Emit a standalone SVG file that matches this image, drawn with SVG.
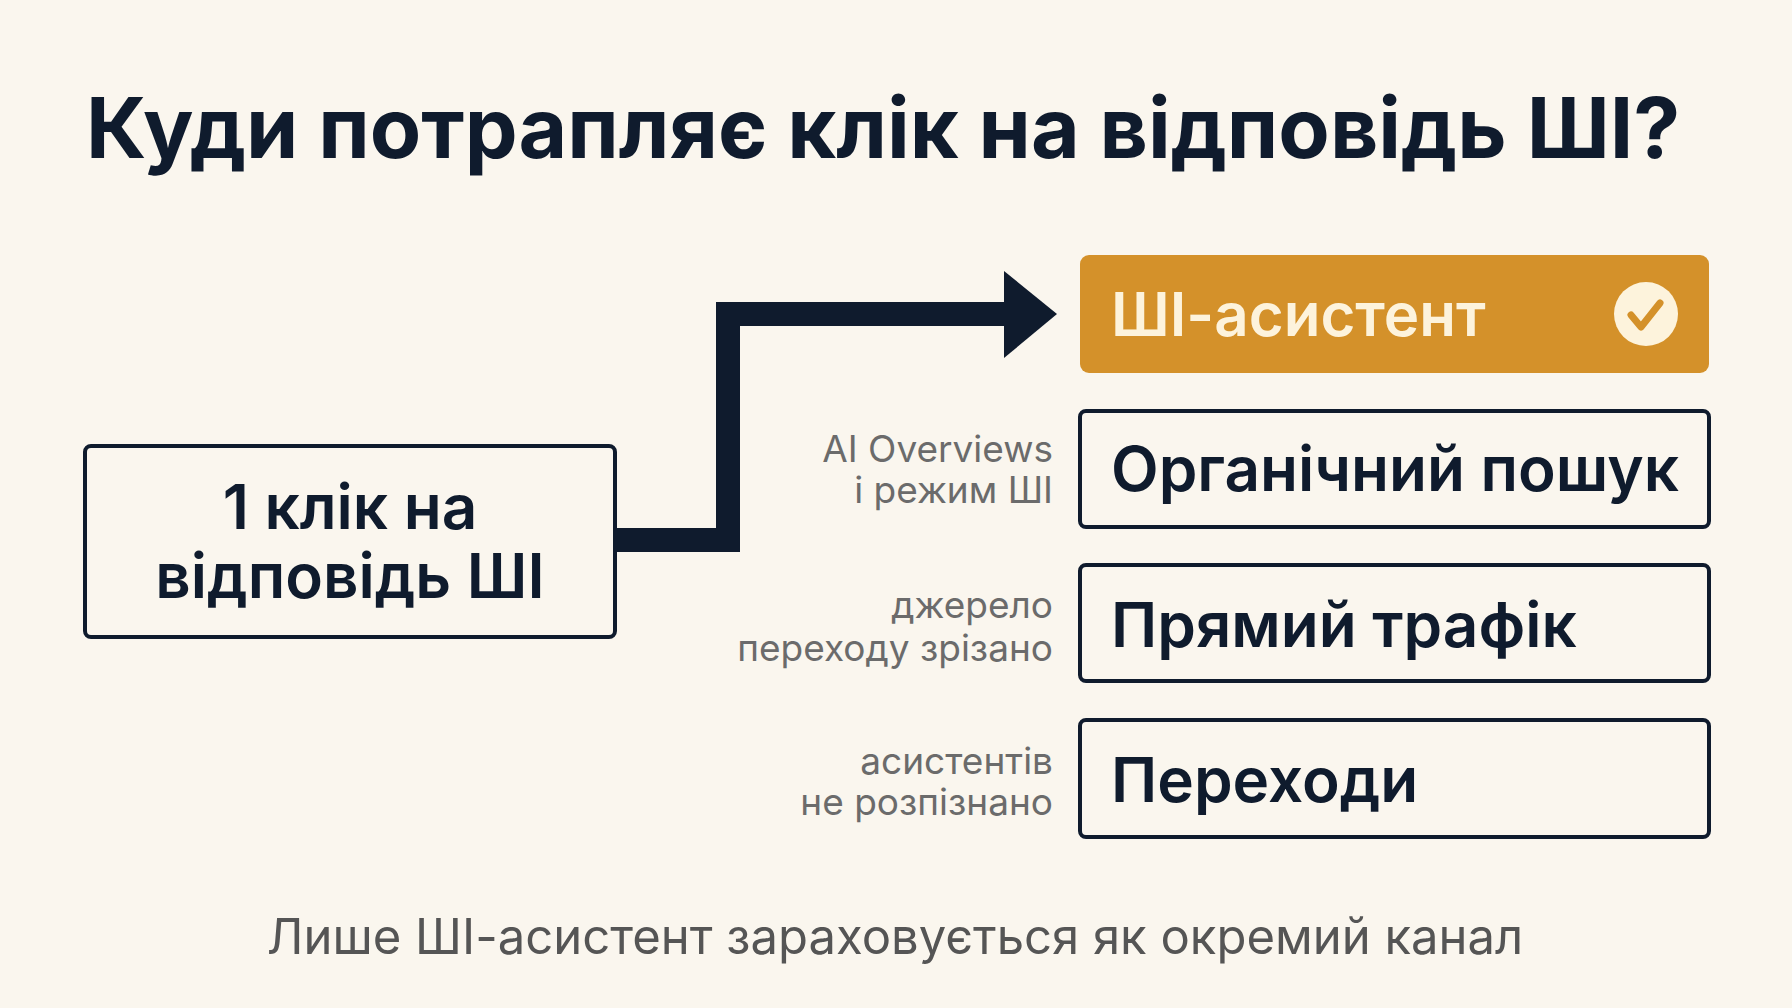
<svg xmlns="http://www.w3.org/2000/svg" width="1792" height="1008" viewBox="0 0 1792 1008">
<style>
text{font-family:"Inter","Liberation Sans",sans-serif}
.box{fill:none;stroke:#0F1B2D;stroke-width:4}
.lbl{font-size:62px;font-weight:600;fill:#0F1B2D}
.side{font-size:37px;fill:#6b6b6b;text-anchor:end}
</style>
<rect width="1792" height="1008" fill="#FAF6EE"/>
<text x="86" y="158" font-size="84" font-weight="700" fill="#0F1B2D">Куди потрапляє клік на відповідь ШІ?</text>
<g id="connectors">
<path d="M615,540 H728 V314 H1010" fill="none" stroke="#0F1B2D" stroke-width="24" stroke-linejoin="miter"/>
<polygon points="1004,271 1057,314 1004,358" fill="#0F1B2D"/>
</g>
<g id="source">
<rect class="box" x="85" y="446" width="530" height="191" rx="6"/>
<text class="lbl" x="350" y="529" text-anchor="middle">1 клік на</text>
<text class="lbl" x="350" y="598" text-anchor="middle">відповідь ШІ</text>
</g>
<g id="ai">
<rect x="1080" y="255" width="629" height="118" rx="9" fill="#D4912A"/>
<text x="1111" y="336" font-size="60" font-weight="600" fill="#FDF3DC">ШІ-асистент</text>
<circle cx="1646" cy="314" r="32" fill="#FDF3DC"/>
<path d="M1631,315 l10,12 l19,-24" fill="none" stroke="#D4912A" stroke-width="7" stroke-linecap="round" stroke-linejoin="round"/>
</g>
<g id="organic">
<rect class="box" x="1080" y="411" width="629" height="116" rx="6"/>
<text class="lbl" x="1111" y="491">Органічний пошук</text>
<text class="side" x="1053" y="462">AI Overviews</text>
<text class="side" x="1053" y="503">і режим ШІ</text>
</g>
<g id="direct">
<rect class="box" x="1080" y="565" width="629" height="116" rx="6"/>
<text class="lbl" x="1111" y="647">Прямий трафік</text>
<text class="side" x="1053" y="618">джерело</text>
<text class="side" x="1053" y="661">переходу зрізано</text>
</g>
<g id="referral">
<rect class="box" x="1080" y="720" width="629" height="117" rx="6"/>
<text class="lbl" x="1111" y="802">Переходи</text>
<text class="side" x="1053" y="774">асистентів</text>
<text class="side" x="1053" y="815">не розпізнано</text>
</g>
<text x="895" y="954" font-size="49" fill="#555" text-anchor="middle">Лише ШІ-асистент зараховується як окремий канал</text>
</svg>
